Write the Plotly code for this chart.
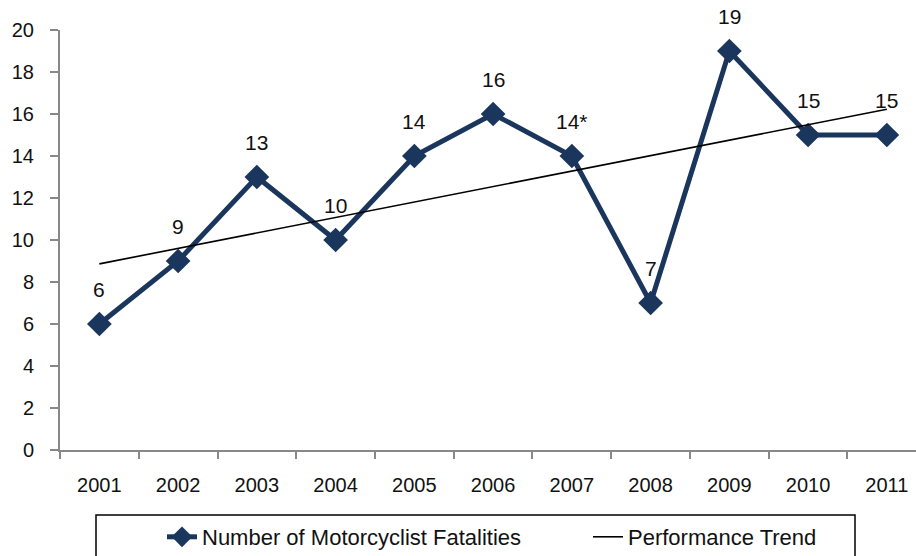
import numpy as np
import plotly.graph_objects as go

years = ["2001", "2002", "2003", "2004", "2005", "2006", "2007", "2008", "2009", "2010", "2011"]
fatalities = [6, 9, 13, 10, 14, 16, 14, 7, 19, 15, 15]
point_labels = ["6", "9", "13", "10", "14", "16", "14*", "7", "19", "15", "15"]

# Linear performance trend fitted to the fatalities
idx = np.arange(len(years))
slope, intercept = np.polyfit(idx, fatalities, 1)
trend = list(intercept + slope * idx)

FONT = "Liberation Sans Narrow, Arial Narrow, Liberation Sans, Arial, sans-serif"
NAVY = "#1B365D"

fig = go.Figure()
fig.add_trace(go.Scatter(
    x=years, y=fatalities, mode="lines+markers",
    name="Number of Motorcyclist Fatalities",
    line=dict(color=NAVY, width=5),
    marker=dict(symbol="diamond", size=19, color=NAVY),
))
fig.add_trace(go.Scatter(
    x=[years[0], years[-1]], y=[trend[0], trend[-1]], mode="lines",
    name="Performance Trend",
    line=dict(color="black", width=1.6),
))

for i, (v, t) in enumerate(zip(fatalities, point_labels)):
    fig.add_annotation(x=i, y=v, text=t, showarrow=False, yshift=35,
                       font=dict(family=FONT, size=21, color="#111"))

W, H = 916, 556
L, R, T, B = 60, 0, 30, 106
pw, ph = W - L - R, H - T - B

def px_x(p):
    return (p - L) / pw

def px_y(p):
    return (H - B - p) / ph

fig.add_shape(type="rect", xref="paper", yref="paper",
              x0=px_x(96), x1=px_x(855), y0=px_y(515), y1=px_y(562),
              line=dict(color="black", width=1.5), fillcolor="rgba(0,0,0,0)")

fig.update_layout(
    width=W, height=H,
    margin=dict(l=L, r=R, t=T, b=B, pad=0, autoexpand=False),
    paper_bgcolor="white", plot_bgcolor="white",
    font=dict(family=FONT, size=20, color="#111"),
    showlegend=True,
    legend=dict(orientation="h", x=px_x(162), y=px_y(537), xanchor="left", yanchor="middle",
                font=dict(family=FONT, size=22, color="#111"),
                bgcolor="rgba(0,0,0,0)", borderwidth=0,
                entrywidth=381, entrywidthmode="pixels"),
    xaxis=dict(type="category", range=[-0.5, 10.37], showgrid=False,
               showline=True, linecolor="#888", linewidth=2,
               ticks="outside", tickson="boundaries", ticklen=7, tickcolor="#888", tickwidth=1.5,
               ticklabelstandoff=16, automargin=False,
               tickfont=dict(family=FONT, size=20, color="#111"), fixedrange=True),
    yaxis=dict(range=[0, 20], dtick=2, showgrid=False, zeroline=False,
               showline=True, linecolor="#888", linewidth=2,
               ticks="outside", ticklen=8, tickcolor="#888", tickwidth=1.5,
               ticklabelstandoff=12, automargin=False,
               tickfont=dict(family=FONT, size=20, color="#111"), fixedrange=True),
)

fig.write_html("out.html", config={"displayModeBar": False},
               post_script="document.body.style.margin='0';document.body.style.overflow='hidden';")
